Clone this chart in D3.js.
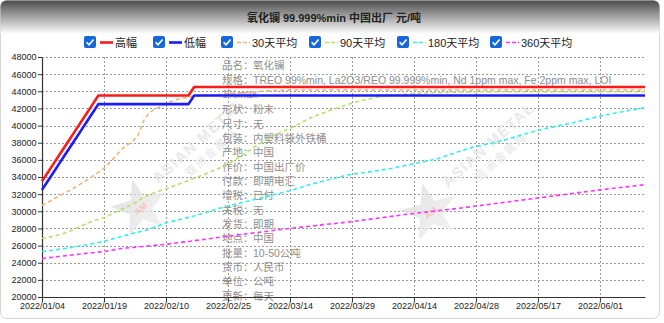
<!DOCTYPE html>
<html>
<head>
<meta charset="utf-8">
<script src="https://cdn.jsdelivr.net/npm/d3@7"></script>
<style>
  html, body { margin: 0; padding: 0; background: #fff; }
  svg { display: block; }
</style>
</head>
<body>
<svg id="chart" width="664" height="323"></svg>
<script>
// ---- data (one value per trading day, index 0 = 2022/01/04) ----
const tickLabels = ["2022/01/04","2022/01/19","2022/02/10","2022/02/25","2022/03/14",
                    "2022/03/29","2022/04/14","2022/04/28","2022/05/17","2022/06/01"];
const tickIndex = [0, 11, 22, 33, 44, 55, 66, 77, 88, 99];
const yTicks = [20000,22000,24000,26000,28000,30000,32000,34000,36000,38000,40000,42000,44000,46000,48000];

const high = [
  33500,34500,35500,36500,37500,38500,39500,40500,41500,42500,
  43500,43500,43500,43500,43500,43500,43500,43500,43500,43500,
  43500,43500,43500,43500,43500,43500,43500,44500,44500,44500,
  44500,44500,44500,44500,44500,44500,44500,44500,44500,44500,
  44500,44500,44500,44500,44500,44500,44500,44500,44500,44500,
  44500,44500,44500,44500,44500,44500,44500,44500,44500,44500,
  44500,44500,44500,44500,44500,44500,44500,44500,44500,44500,
  44500,44500,44500,44500,44500,44500,44500,44500,44500,44500,
  44500,44500,44500,44500,44500,44500,44500,44500,44500,44500,
  44500,44500,44500,44500,44500,44500,44500,44500,44500,44500,
  44500,44500,44500,44500,44500,44500,44500,44500];

const low = [
  32500,33500,34500,35500,36500,37500,38500,39500,40500,41500,
  42500,42500,42500,42500,42500,42500,42500,42500,42500,42500,
  42500,42500,42500,42500,42500,42500,42500,43500,43500,43500,
  43500,43500,43500,43500,43500,43500,43500,43500,43500,43500,
  43500,43500,43500,43500,43500,43500,43500,43500,43500,43500,
  43500,43500,43500,43500,43500,43500,43500,43500,43500,43500,
  43500,43500,43500,43500,43500,43500,43500,43500,43500,43500,
  43500,43500,43500,43500,43500,43500,43500,43500,43500,43500,
  43500,43500,43500,43500,43500,43500,43500,43500,43500,43500,
  43500,43500,43500,43500,43500,43500,43500,43500,43500,43500,
  43500,43500,43500,43500,43500,43500,43500,43500];

const ma30 = [
  30700,31000,31400,31750,32100,32450,32850,33250,33650,34100,
  34550,35000,35700,36400,37150,37700,38100,38800,40500,41500,
  41900,42200,42550,42850,43050,43200,43300,43400,43450,43500,
  43550,43600,43650,43700,43750,43800,43850,43900,43950,44000,
  44050,44080,44100,44120,44140,44150,44150,44150,44150,44150,
  44150,44150,44150,44150,44150,44150,44150,44150,44150,44150,
  44150,44150,44150,44150,44150,44150,44150,44150,44150,44150,
  44150,44150,44150,44150,44150,44150,44150,44150,44150,44150,
  44150,44150,44150,44150,44150,44150,44150,44150,44150,44150,
  44150,44150,44150,44150,44150,44150,44150,44150,44150,44150,
  44150,44150,44150,44150,44150,44150,44150,44150];

const ma90 = [
  26850,26950,27100,27250,27450,27700,28000,28300,28600,28850,
  29050,29250,29550,29900,30200,30500,30800,31200,31600,31950,
  32150,32400,32600,32850,33100,33350,33600,33850,34100,34350,
  34650,34900,35200,35500,35900,36300,36750,37200,37650,38050,
  38450,38800,39100,39400,39650,40000,40350,40700,41000,41250,
  41500,41750,41950,42200,42400,42600,42800,42950,43100,43250,
  43350,43450,43550,43600,43650,43700,43750,43780,43800,43820,
  43840,43860,43880,43900,43910,43920,43930,43940,43950,43950,
  43950,43950,43950,43950,43950,43950,43950,43950,43950,43950,
  43950,43950,43950,43950,43950,43950,43950,43950,43950,43950,
  43950,43950,43950,43950,43950,43950,43950,43950];

const ma180 = [
  25300,25380,25460,25560,25660,25760,25880,25990,26100,26230,
  26360,26500,26680,26860,27040,27220,27400,27560,27730,27900,
  28150,28400,28650,28810,28970,29130,29290,29450,29650,29850,
  30050,30250,30450,30610,30780,30940,31100,31270,31430,31590,
  31750,31920,32080,32240,32400,32600,32800,33000,33200,33370,
  33530,33700,33870,34030,34200,34300,34400,34500,34600,34700,
  34800,34900,35000,35140,35270,35410,35550,35690,35820,35960,
  36100,36320,36530,36750,36970,37180,37400,37550,37700,37850,
  38000,38150,38300,38490,38680,38870,39070,39260,39450,39590,
  39730,39880,40020,40160,40300,40460,40620,40780,40930,41090,
  41250,41370,41490,41610,41740,41860,41980,42100];

const ma360 = [
  24500,24580,24650,24730,24800,24880,24950,25030,25100,25170,
  25230,25300,25420,25530,25650,25710,25780,25840,25900,25960,
  26030,26090,26150,26230,26320,26400,26480,26570,26650,26740,
  26830,26920,27010,27100,27180,27260,27350,27430,27510,27590,
  27670,27750,27840,27920,28000,28070,28150,28220,28290,28360,
  28440,28510,28580,28650,28730,28800,28890,28970,29060,29150,
  29230,29320,29410,29490,29580,29660,29750,29830,29900,29980,
  30050,30130,30200,30280,30350,30440,30520,30610,30690,30780,
  30860,30950,31040,31120,31210,31290,31380,31460,31550,31640,
  31720,31810,31890,31980,32070,32150,32240,32330,32410,32500,
  32580,32650,32730,32800,32880,32950,33030,33100];

const seriesNames  = ["高幅", "低幅", "30天平均", "90天平均", "180天平均", "360天平均"];
const seriesValues = [high, low, ma30, ma90, ma180, ma360];
const seriesColors = ["#ff1a1a", "#1a1aff", "#f2b27a", "#b2e26a", "#33eeee", "#ff33ff"];
const seriesDashed = [false, false, true, true, true, true];

const infoLabels = ["品名：", "规格：", "", "形状：", "尺寸：", "包装：", "产地：", "作价：", "付款：",
                    "增税：", "关税：", "发货：", "地点：", "批量：", "货币：", "单位：", "更新："];
const infoValues = ["氧化镧", "TREO 99%min, La2O3/REO 99.999%min, Nd 1ppm max, Fe 2ppm max, LOI", "1%max",
                    "粉末", "无", "内塑料袋外铁桶", "中国", "中国出厂价", "即期电汇",
                    "已付", "无", "即期", "中国", "10-50公吨", "人民币", "公吨", "每天"];

const titleText = "氧化镧 99.999%min 中国出厂 元/吨";

// ---- layout ----
const W = 664, H = 323;
const M = { left: 42, right: 645, top: 57, bottom: 297 };
const FONT = "'Liberation Sans', 'Noto Sans CJK SC', Arial, sans-serif";

const svg = d3.select("#chart");
const defs = svg.append("defs");

const grad = defs.append("linearGradient").attr("id", "hdr").attr("x1", 0).attr("y1", 0).attr("x2", 0).attr("y2", 1);
grad.append("stop").attr("offset", "0%").attr("stop-color", "#4a4a4a");
grad.append("stop").attr("offset", "100%").attr("stop-color", "#ffffff");

defs.append("clipPath").attr("id", "frame")
  .append("rect").attr("x", 0.5).attr("y", 0.5).attr("width", W - 5).attr("height", H - 5).attr("rx", 6);

// frame + header band
svg.append("rect").attr("x", 0.5).attr("y", 0.5).attr("width", W - 5).attr("height", H - 5)
  .attr("rx", 6).attr("fill", "#fff").attr("stroke", "#d6d6d6");
svg.append("rect").attr("clip-path", "url(#frame)").attr("x", 0).attr("y", 0)
  .attr("width", W).attr("height", 34).attr("fill", "url(#hdr)");

// title
svg.append("text").attr("x", 334).attr("y", 22).attr("text-anchor", "middle")
  .attr("font-family", FONT).attr("font-size", 11).attr("font-weight", "bold").attr("fill", "#222")
  .text(titleText);

// ---- scales ----
const x = d3.scaleLinear().domain([0, high.length - 1]).range([M.left, M.right]);
const y = d3.scaleLinear().domain([20000, 48000]).range([M.bottom, M.top]);

// ---- gridlines ----
const grid = svg.append("g").attr("stroke", "#9a9a9a").attr("stroke-dasharray", "2,2").attr("stroke-width", 1);
grid.selectAll("line.h").data(yTicks.filter(v => v > 20000)).join("line")
  .attr("x1", M.left).attr("x2", M.right)
  .attr("y1", d => Math.round(y(d)) + 0.5).attr("y2", d => Math.round(y(d)) + 0.5);
grid.selectAll("line.v").data(tickIndex.filter(i => i > 0)).join("line")
  .attr("y1", M.top).attr("y2", M.bottom)
  .attr("x1", d => Math.round(x(d)) + 0.5).attr("x2", d => Math.round(x(d)) + 0.5);

// ---- watermarks ----
function starPath(cx, cy, R, r) {
  const pts = [];
  for (let k = 0; k < 10; k++) {
    const a = -Math.PI / 2 + k * Math.PI / 5;
    const rr = k % 2 === 0 ? R : r;
    pts.push([cx + rr * Math.cos(a), cy + rr * Math.sin(a)]);
  }
  return "M" + pts.map(p => p.join(",")).join("L") + "Z";
}
const wmGrad = defs.append("linearGradient").attr("id", "wm").attr("x1", 0).attr("y1", 0).attr("x2", 1).attr("y2", 1);
wmGrad.append("stop").attr("offset", "0%").attr("stop-color", "#d8d8d8");
wmGrad.append("stop").attr("offset", "100%").attr("stop-color", "#f0f0f0");

function watermark(cx, cy) {
  const g = svg.append("g").attr("opacity", 0.75);
  g.append("path").attr("d", starPath(cx, cy, 30, 12)).attr("fill", "url(#wm)")
    .attr("transform", `rotate(-15,${cx},${cy})`);
  g.append("text").attr("x", cx).attr("y", cy + 4).attr("text-anchor", "middle")
    .attr("font-family", FONT).attr("font-size", 9).attr("font-weight", "bold")
    .attr("fill", "#f4b0b0").attr("transform", `rotate(-40,${cx},${cy})`).text("AM");
  const t = g.append("g").attr("transform", `translate(${cx + 18},${cy - 24}) rotate(-42)`);
  t.append("text").attr("x", 0).attr("y", 0).attr("font-family", FONT).attr("font-size", 15)
    .attr("font-weight", "bold").attr("letter-spacing", 1.5).attr("fill", "#e2e2e2").text("ASIAN METAL");
  t.append("text").attr("x", 28).attr("y", 16).attr("font-family", "'Noto Sans CJK SC', sans-serif")
    .attr("font-size", 11).attr("font-weight", "bold").attr("letter-spacing", 2).attr("fill", "#e6e6e6").text("亚洲金属网");
}
watermark(140, 208);
watermark(430, 212);

// ---- info block ----
const infoY = [65, 80, 94, 109.5, 124, 138.3, 152.7, 167, 181.4, 195.7, 210, 224.4, 238.7, 253, 267.5, 281.8, 296.2];
const info = svg.append("g").attr("font-family", FONT).attr("font-size", 10.5).attr("fill", "#8e8e8e");
infoLabels.forEach((lab, i) => {
  const yy = infoY[i] + 3.5;
  if (lab) {
    info.append("text").attr("x", 222).attr("y", yy).text(lab);
    info.append("text").attr("x", 253).attr("y", yy).text(infoValues[i]);
  } else {
    info.append("text").attr("x", 222).attr("y", yy).text(infoValues[i]);
  }
});

// ---- axes ----
const yAxis = svg.append("g").attr("transform", `translate(${M.left},0)`)
  .call(d3.axisLeft(y).tickValues(yTicks).tickSize(4).tickSizeOuter(0).tickFormat(d3.format("d")));
const xAxis = svg.append("g").attr("transform", `translate(0,${M.bottom})`)
  .call(d3.axisBottom(x).tickValues(tickIndex).tickSize(5).tickSizeOuter(0).tickFormat((d, i) => tickLabels[i]));
[yAxis, xAxis].forEach(a => {
  a.select(".domain").attr("stroke", "#333").attr("stroke-width", 1.2);
  a.selectAll(".tick line").attr("stroke", "#333");
  a.selectAll(".tick text").attr("font-family", FONT).attr("font-size", 9).attr("fill", "#222");
});
yAxis.selectAll(".tick text").attr("x", -5.5);
xAxis.selectAll(".tick text").attr("y", 6).attr("dy", "0.71em");

// ---- series ----
const line = d3.line().x((d, i) => x(i)).y(d => y(d));
const plot = svg.append("g");
// averages first so the price band sits on top
[5, 4, 3, 2, 1, 0].forEach(s => {
  plot.append("path")
    .attr("d", line(seriesValues[s]))
    .attr("fill", "none")
    .attr("stroke", seriesColors[s])
    .attr("stroke-width", seriesDashed[s] ? 1.6 : 2.6)
    .attr("stroke-dasharray", seriesDashed[s] ? "4,3" : null)
    .attr("stroke-linejoin", "round");
});

// ---- legend ----
const legendX = [84, 153, 221, 309, 397, 490];
const legend = svg.append("g").attr("font-family", FONT).attr("font-size", 11).attr("fill", "#222");
seriesNames.forEach((name, i) => {
  const g = legend.append("g").attr("transform", `translate(${legendX[i]},36)`);
  g.append("rect").attr("width", 12).attr("height", 12).attr("rx", 2).attr("fill", "#1668d8");
  g.append("path").attr("d", "M2.6,6.2 L5,8.8 L9.6,3.4").attr("fill", "none")
    .attr("stroke", "#fff").attr("stroke-width", 1.6);
  g.append("line").attr("x1", 16).attr("x2", 29).attr("y1", 6.5).attr("y2", 6.5)
    .attr("stroke", seriesColors[i]).attr("stroke-width", seriesDashed[i] ? 1.6 : 2.6)
    .attr("stroke-dasharray", seriesDashed[i] ? "4,2" : null);
  g.append("text").attr("x", 31).attr("y", 10.5).text(name);
});
</script>
</body>
</html>
